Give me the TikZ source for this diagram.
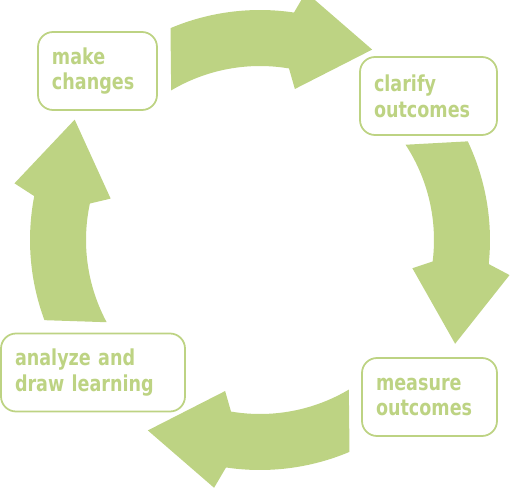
\documentclass[tikz,border=0pt]{standalone}
\usepackage{fontspec}
\newfontfamily\stagefont{DejaVu Sans}[FakeStretch=0.8]
\definecolor{cyclegreen}{RGB}{189,211,131}
\tikzset{
	stage/.style={draw=cyclegreen, line width=1pt, rounded corners=0.3cm,
		text=cyclegreen, text width=#1, align=left, inner xsep=0.28cm,
		inner ysep=0pt, minimum height=1.56cm,
		font=\stagefont\bfseries\fontsize{12.5}{14.75}\selectfont},
	cyclearrow/.style={fill=cyclegreen, draw=none}
}

\begin{document}
\begin{tikzpicture}
	\useasboundingbox (0,0) rectangle (10.3,-9.84);
	% four curved arrows round the centre
	\foreach \rot in {0,-87.5,180,87.5}
		\fill[cyclearrow, shift={(5.2,-4.8)}, rotate=\rot]
			(112.9:4.6) arc[start angle=112.9, end angle=81.5, radius=4.6]
			-- (79.5:5.04) -- (59.5:4.42) -- (77:3.1)
			-- (80.4:3.48) arc[start angle=80.4, end angle=120.7, radius=3.48]
			-- cycle;
	\node[stage=1.82cm] (make) at (1.95,-1.42) {make\\changes};
	\node[stage=2.18cm] (clarify) at (8.57,-1.92) {clarify\\outcomes};
	\node[stage=2.14cm] (measure) at (8.59,-7.94) {measure\\outcomes};
	\node[stage=3.12cm] (analyze) at (1.86,-7.45) {analyze and\\draw learning};
\end{tikzpicture}
\end{document}
